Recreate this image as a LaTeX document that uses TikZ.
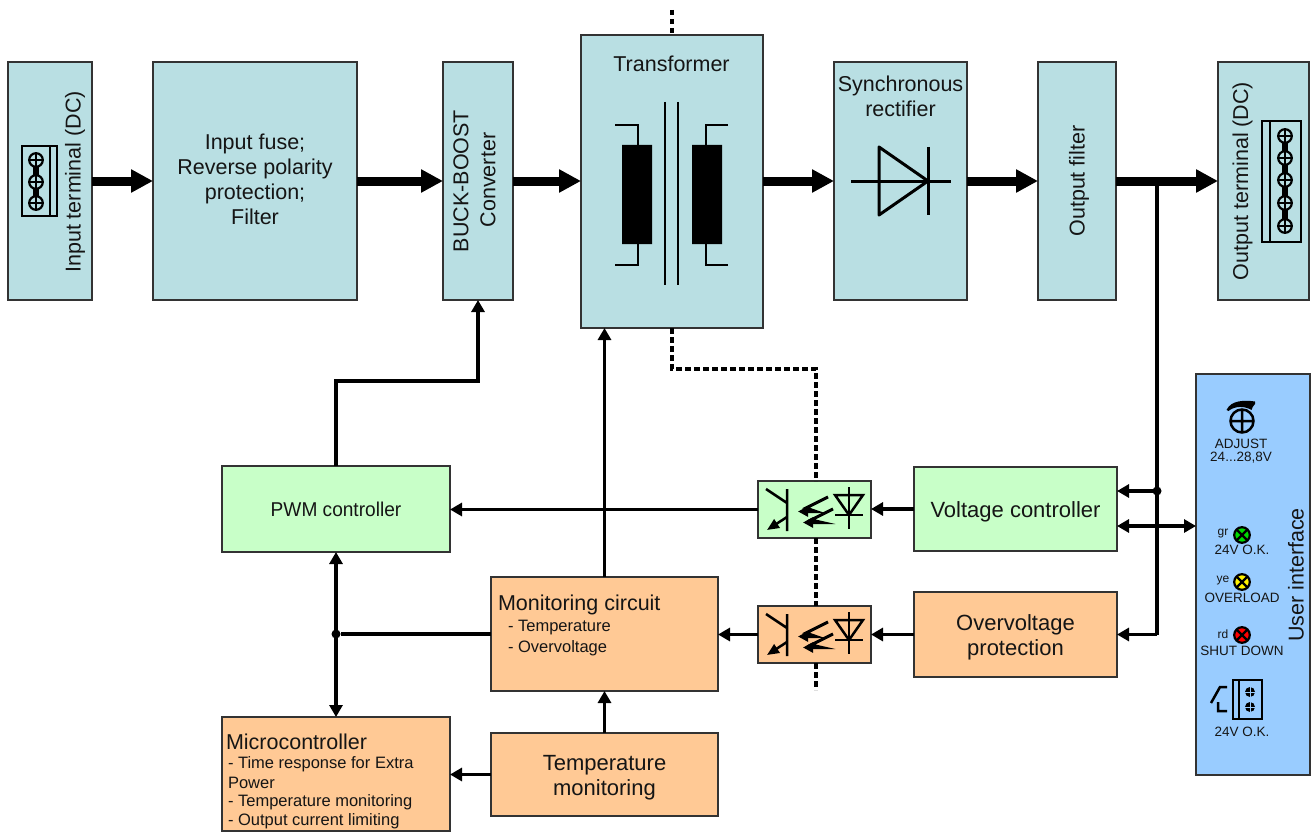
\documentclass[tikz,border=0pt]{standalone}
\usepackage{fontspec}
\setmainfont{Liberation Sans}
\usetikzlibrary{arrows.meta}
\definecolor{tealfill}{HTML}{B9DFE3}
\definecolor{greenfill}{HTML}{C8FFC8}
\definecolor{orangefill}{HTML}{FFC995}
\definecolor{bluefill}{HTML}{99CCFF}
\definecolor{edge}{HTML}{333333}
\definecolor{ink}{HTML}{151515}
\newcommand{\fs}[1]{\fontsize{#1}{#1}\selectfont}
\tikzset{
  box/.style={draw=edge,line width=2.5pt,anchor=center,inner sep=0pt,outer sep=0pt,text=ink,align=center,font=\fs{21.5}},
  tealbox/.style={box,fill=tealfill},
  greenbox/.style={box,fill=greenfill},
  orangebox/.style={box,fill=orangefill},
  bluebox/.style={box,fill=bluefill},
  label/.style={text=ink,inner sep=0pt,outer sep=0pt,font=\fs{21.5},align=center},
  biglabel/.style={label,font=\fs{22}},
  small/.style={label,font=\fs{16.5},align=left},
  ui/.style={label,font=\fs{13.5},align=center},
  tiny/.style={label,font=\fs{12}},
  power/.style={line width=9pt,draw=black,-{Triangle[length=22pt,width=22pt]}},
  signal/.style={line width=3.5pt,draw=black,-{Triangle[length=12pt,width=13pt]}},
  signaltwo/.style={line width=3.5pt,draw=black,{Triangle[length=12pt,width=13pt]}-{Triangle[length=12pt,width=13pt]}},
  plainline/.style={line width=3.5pt,draw=black},
  isolation/.style={line width=3.5pt,draw=black,dash pattern=on 5.5pt off 3.5pt},
  junction/.style={circle,fill=black,inner sep=0pt,outer sep=0pt,minimum size=9pt},
  sym/.style={line width=2.5pt,draw=black},
  screw/.pic={
    \draw[line width=2.2pt,fill=tealfill] (0,0) circle (6.8);
    \draw[line width=1.6pt] (-6.8,0)--(6.8,0) (0,-6.8)--(0,6.8);
  },
  lamp/.pic={
    \draw[line width=2.2pt,fill=\pgfkeysvalueof{/tikz/lampcolor}] (0,0) circle (7.8);
    \draw[line width=2.2pt] (-5.5,-5.5)--(5.5,5.5) (-5.5,5.5)--(5.5,-5.5);
  },
  lampcolor/.initial=green,
  coupler/.pic={
    \draw[line width=2.5pt] (787,489)--(787,531) (766,489)--(787,503);
    \draw[line width=2.5pt,-{Triangle[length=12pt,width=10pt]}] (787,517)--(767,530);
    \draw[line width=3pt,line join=miter,-{Triangle[length=10pt,width=10pt]}] (828,497)--(806,508)--(816,511.5)--(798,511.5);
    \draw[line width=3pt,line join=miter,-{Triangle[length=10pt,width=10pt]}] (833,509)--(811,520)--(822,522.5)--(803,522.5);
    \draw[line width=2.5pt,line join=miter] (835,495)--(863,495)--(849,515)--cycle;
    \draw[line width=2.5pt] (849,487)--(849,529) (835,515)--(863,515);
  },
}
\begin{document}
\begin{tikzpicture}[x=1pt,y=-1pt]
\useasboundingbox (0,0) rectangle (1314,832);

% boxes
\node[tealbox,minimum width=84pt,minimum height=238pt] (input) at (50,181) {};
\node[tealbox,minimum width=204pt,minimum height=238pt] (fuse) at (255,181) {};
\node[tealbox,minimum width=70pt,minimum height=238pt] (buck) at (478,181) {};
\node[tealbox,minimum width=182pt,minimum height=293pt] (trans) at (672,181.5) {};
\node[tealbox,minimum width=133pt,minimum height=238pt] (sync) at (900.5,181) {};
\node[tealbox,minimum width=78pt,minimum height=238pt] (ofilt) at (1077,181) {};
\node[tealbox,minimum width=91pt,minimum height=238pt] (oterm) at (1263.5,181) {};
\node[bluebox,minimum width=114pt,minimum height=401pt] (uipanel) at (1253,574.5) {};
\node[greenbox,minimum width=228pt,minimum height=86pt,font=\fs{20}] (pwm) at (336,509) {\scalebox{0.955}[1]{PWM controller}};
\node[greenbox,minimum width=113pt,minimum height=57pt] (optoa) at (814.5,509.5) {};
\node[orangebox,minimum width=113pt,minimum height=57pt] (optob) at (814.5,634.5) {};
\node[greenbox,minimum width=203pt,minimum height=84pt] (vc) at (1015.5,509) {};
\node[orangebox,minimum width=203pt,minimum height=85pt] (ovp) at (1015.5,634.5) {};
\node[orangebox,minimum width=227pt,minimum height=114pt] (mon) at (604.5,634) {};
\node[orangebox,minimum width=227pt,minimum height=83pt] (temp) at (604.5,774.5) {};
\node[orangebox,minimum width=228pt,minimum height=114pt] (micro) at (336,774) {};

% labels
\node[label,rotate=90] (inputlabel) at (75,182) {Input terminal (DC)};
\node[label] (fuselabel) at (255,179) {Input fuse;\\[3.5pt]Reverse polarity\\[3.5pt]protection;\\[3.5pt]Filter};
\node[label,rotate=90] (bucklabela) at (461,181) {BUCK-BOOST};
\node[label,rotate=90] (bucklabelb) at (488,180) {Converter};
\node[label] (translabel) at (671.5,64) {Transformer};
\node[label] (synclabel) at (900.5,96.5) {Synchronous\\[3.5pt]rectifier};
\node[label,rotate=90] (ofiltlabel) at (1079,181) {Output filter};
\node[label,rotate=90] (otermlabel) at (1242.5,181) {Output terminal (DC)};
\node[label,rotate=90] (uilabel) at (1296,575) {User interface};
\node[biglabel] (vclabel) at (1015.5,512) {Voltage controller};
\node[biglabel] (ovplabel) at (1015.5,637.5) {Overvoltage\\[3.5pt]protection};
\node[biglabel] (templabel) at (604.5,777.5) {Temperature\\[3.5pt]monitoring};
\node[label,anchor=west] (monlabel) at (498,605) {Monitoring circuit};
\node[small,anchor=west] (monlista) at (508,628) {- Temperature};
\node[small,anchor=west] (monlistb) at (508,648) {- Overvoltage};
\node[label,anchor=west] (microlabel) at (226,742) {Microcontroller};
\node[small,anchor=west] (microa) at (228,764) {- Time response for Extra};
\node[small,anchor=west] (microb) at (228,783) {Power};
\node[small,anchor=west] (microc) at (228,802) {- Temperature monitoring};
\node[small,anchor=west] (microd) at (228,821) {- Output current limiting};
\node[ui] (adj) at (1241,444) {ADJUST};
\node[ui] (adjr) at (1241,458) {24...28,8V};
\node[tiny] (gr) at (1223,534) {gr};
\node[ui] (ok) at (1242,550) {24V O.K.};
\node[tiny] (ye) at (1223,581) {ye};
\node[ui] (over) at (1242,598) {OVERLOAD};
\node[tiny] (rd) at (1223,634) {rd};
\node[ui] (shut) at (1242,651) {SHUT DOWN};
\node[ui] (okb) at (1242,732) {24V O.K.};

% helper coordinates
\coordinate (dashtop) at (672,10);
\coordinate (dashbend) at (816,369);
\coordinate (dashend) at (816,690);
\coordinate (bendA) at (478,381);
\coordinate (branch) at (1157,181);
\coordinate (vcport) at (1117,526);
\node[junction] (jmon) at (336,634) {};
\node[junction] (jvc) at (1157,491) {};

% power path
\draw[power] (input.east) -- (fuse.west);
\draw[power] (fuse.east) -- (buck.west);
\draw[power] (buck.east) -- (trans.west |- buck.east);
\draw[power] (trans.east |- sync.west) -- (sync.west);
\draw[power] (sync.east) -- (ofilt.west);
\draw[power] (ofilt.east) -- (oterm.west);

% signal paths
\draw[signal] (pwm.north) |- (bendA) -- (buck.south);
\draw[signal] (mon.north) -- (mon.north |- trans.south);
\draw[signal] (optoa.west) -- (pwm.east |- optoa.west);
\draw[signal] (vc.west) -- (optoa.east |- vc.west);
\draw[signal] (ovp.west) -- (optob.east);
\draw[signal] (optob.west) -- (mon.east |- optob.west);
\draw[signal] (temp.north) -- (mon.south);
\draw[signal] (temp.west) -- (micro.east |- temp.west);
\draw[signaltwo] (pwm.south) -- (micro.north);
\draw[plainline] (mon.west) -- (jmon);
\draw[plainline] (branch) -- (branch |- ovp.east);
\draw[signal] (branch |- ovp.east) -- (ovp.east);
\draw[signal] (jvc) -- (vc.east |- jvc);
\draw[signaltwo] (vcport) -- (uipanel.west |- vcport);

% isolation barrier
\draw[isolation] (dashtop) -- (trans.north);
\draw[isolation] (trans.south) |- (dashbend) -- (dashbend |- optoa.north);
\draw[isolation] (dashbend |- optoa.south) -- (dashbend |- optob.north);
\draw[isolation] (dashbend |- optob.south) -- (dashend);

% input terminal icon
\draw[sym] (22,146) rectangle (57,216) (50,146)--(50,216);
\draw[line width=6pt] (36,160)--(36,203);
\pic at (36,160) {screw};
\pic at (36,182) {screw};
\pic at (36,203) {screw};

% output terminal icon
\draw[sym] (1262,121) rectangle (1301,242) (1270,121)--(1270,242);
\draw[line width=6pt] (1285,136)--(1285,226);
\pic at (1285,136) {screw};
\pic at (1285,158) {screw};
\pic at (1285,180) {screw};
\pic at (1285,203) {screw};
\pic at (1285,226) {screw};

% transformer symbol
\fill[black] (622,145) rectangle (652,244) (692,145) rectangle (722,244);
\draw[line width=2pt] (615,125)-|(637.5,145) (615,265)-|(637.5,244);
\draw[line width=2pt] (728,125)-|(706,145) (728,265)-|(706,244);
\draw[line width=2pt] (665,102)--(665,285) (678,102)--(678,285);

% diode symbol
\draw[line width=3pt,line join=round] (879,147)--(879,215)--(928,181)--cycle;
\draw[line width=3pt] (851,181)--(951,181) (928,147)--(928,215);

% optocouplers
\pic at (0,0) {coupler};
\pic at (0,125) {coupler};

% user interface icons
\draw[line width=2.5pt] (1242,421) circle (11.5) (1230.5,421)--(1253.5,421) (1242,409.5)--(1242,432.5);
\fill[black] (1226.5,410) .. controls (1231,400) and (1245,400) .. (1255,401.5) -- (1255,404) .. controls (1253,406) and (1252,408) .. (1251.5,410) .. controls (1245,406) and (1235,405.5) .. (1228.5,411) -- cycle;
\pic[lampcolor=green!85!black] at (1242,535) {lamp};
\pic[lampcolor=yellow] at (1242,582) {lamp};
\pic[lampcolor=red] at (1242,635) {lamp};
\draw[sym] (1233,680) rectangle (1262,719) (1239,680)--(1239,719);
\fill[black] (1250,692) circle (5) (1250,707) circle (5);
\draw[line width=0.6pt,draw=bluefill] (1245,692)--(1255,692) (1250,687)--(1250,697) (1245,707)--(1255,707) (1250,702)--(1250,712);
\draw[line width=2.5pt] (1227,687)--(1220,687)--(1211,703) (1218,702)--(1218,711)--(1227,711);
\end{tikzpicture}
\end{document}
